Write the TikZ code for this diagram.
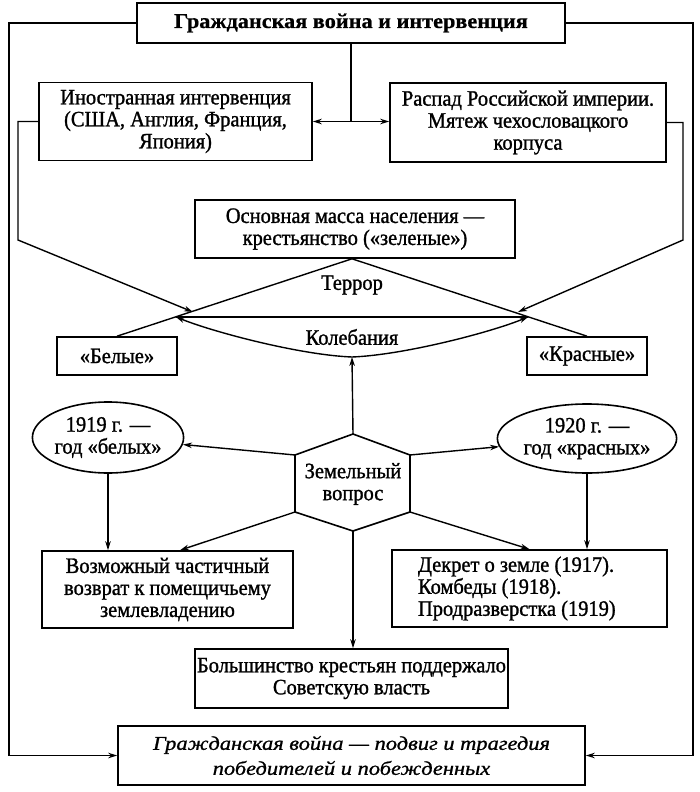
\documentclass[tikz,border=0pt]{standalone}
\usepackage{fontspec}
\setmainfont{Liberation Serif}
\newfontfamily\bodyfont{Liberation Serif}[FakeStretch=0.93,FakeBold=1.2]
\newfontfamily\titlefont{Liberation Serif}[FakeStretch=1.06,FakeBold=0.6]
\newfontfamily\italfont{Liberation Serif}[FakeStretch=1.15,FakeBold=1.0]
\usetikzlibrary{arrows.meta,shapes.geometric,calc}
\begin{document}
\begin{tikzpicture}[x=1pt,y=-1pt,
  txt/.style={font={\bodyfont\fontsize{22}{22}\selectfont}},
  box/.style={txt,draw,line width=1.6pt,rectangle,inner sep=0pt,align=center},
  ell/.style={txt,draw,line width=1.6pt,ellipse,inner sep=0pt,align=center},
  conn/.style={line width=1.4pt},
  arr/.style={conn,-{Stealth[length=9pt,width=5.5pt]}},
  darr/.style={conn,{Stealth[length=9pt,width=5.5pt]}-{Stealth[length=9pt,width=5.5pt]}},
 ]
\useasboundingbox (0,0) rectangle (700,792);
\fill[white] (0,0) rectangle (700,792);

% nodes
\node[box,minimum width=428,minimum height=40,font={\titlefont\bfseries\fontsize{21}{21}\selectfont}] (title) at (351,23) {Гражданская война и интервенция};
\node[box,minimum width=273,minimum height=78] (inter) at (175.5,121.5) {Иностранная интервенция\\(США, Англия, Франция,\\Япония)};
\node[box,minimum width=276,minimum height=79] (raspad) at (528,122.5) {Распад Российской империи.\\Мятеж чехословацкого\\корпуса};
\node[box,minimum width=320,minimum height=58] (green) at (355,229) {Основная масса населения —\\крестьянство («зеленые»)};
\node[box,minimum width=120,minimum height=38] (bel) at (117,356) {«Белые»};
\node[box,minimum width=120,minimum height=38] (kras) at (587,356) {«Красные»};
\node[ell,minimum width=140,minimum height=71] (ell1) at (108,437.5) {1919 г. —\\год «белых»};
\node[ell,minimum width=160,minimum height=69] (ell2) at (587,438.5) {1920 г. —\\год «красных»};
\node[box,minimum width=251,minimum height=77] (voz) at (167.5,589.5) {Возможный частичный\\возврат к помещичьему\\землевладению};
\node[box,minimum width=275,minimum height=77,text width=223,inner xsep=26,align=flush left] (dek) at (529.5,588.5) {Декрет о земле (1917).\\Комбеды (1918).\\Продразверстка (1919)};
\node[box,minimum width=313,minimum height=59] (bolsh) at (351.5,678.5) {Большинство крестьян поддержало\\Советскую власть};
\node[box,minimum width=467,minimum height=59,font={\italfont\itshape\fontsize{19.5}{25}\selectfont}] (final) at (351.5,755.5) {Гражданская война — подвиг и трагедия\\победителей и побежденных};

% hexagon
\coordinate (hT) at (353,434);
\coordinate (hUR) at (410,455);
\coordinate (hLR) at (410,512);
\coordinate (hB) at (353,531);
\coordinate (hLL) at (295,512);
\coordinate (hUL) at (295,455);
\draw[line width=1.6pt,line join=miter] (hT)--(hUR)--(hLR)--(hB)--(hLL)--(hUL)--cycle;
\node[txt,align=center] (hex) at (353,484) {Земельный\\вопрос};

% outer frame connectors
\coordinate (oL) at (9,400);
\coordinate (oR) at (693,400);
\draw[arr] (title.west) -| (oL) |- (final.west);
\draw[arr] (title.east) -| (oR) |- (final.east);

% top connectors
\draw[conn] (title.south) -- (title.south |- inter.east);
\draw[darr] (inter.east) -- (inter.east -| raspad.west);

\coordinate (iL) at (18,240);
\coordinate (tL) at (193,312);
\draw[arr] (inter.west) -| (iL) -- (tL);
\coordinate (iR) at (683,240);
\coordinate (tR) at (518,312);
\draw[arr] (raspad.east) -| (iR) -- (tR);

% triangle
\coordinate (gS) at ($(green.south)+(-3,0)$);
\draw[conn] (bel.north) -- (gS) -- (kras.north);
\coordinate (hL) at ($(bel.north)!0.25!(gS)$);
\coordinate (hR) at ($(kras.north)!0.25!(gS)$);
\draw[conn] (hL) -- (hR);
\node[txt] (terror) at (352,285) {Террор};
\node[txt] (koleb) at (352,337) {Колебания};
\coordinate (kB) at (352,357);
\draw[arr] (kB) .. controls (300,355) and (213,332) .. (hL);
\draw[arr] (kB) .. controls (404,355) and (492,332) .. (hR);

% hexagon connectors
\draw[arr] (hT) -- (kB);
\draw[arr] (hUL) -- (ell1);
\draw[arr] (hUR) -- (ell2);
\draw[arr] (hLL) -- ($(voz.north)+(12.5,0)$);
\draw[arr] (hLR) -- (dek.north);
\draw[arr] (hB) -- (hB |- bolsh.north);
\draw[arr] (ell1.south) -- (ell1.south |- voz.north);
\draw[arr] (ell2.south) -- (ell2.south |- dek.north);
\end{tikzpicture}
\end{document}
